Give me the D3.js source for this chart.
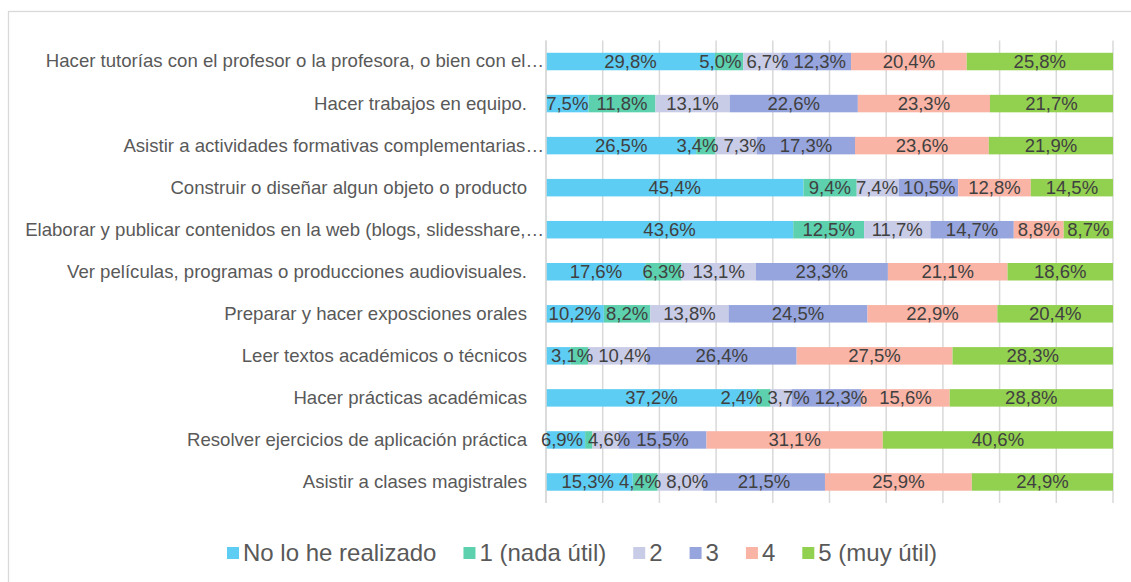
<!DOCTYPE html>
<html>
<head>
<meta charset="utf-8">
<script src="https://cdn.jsdelivr.net/npm/d3@7"></script>
<style>
    body { margin: 0; background: #fff; }
    text { font-family: "Liberation Sans", Arial, sans-serif; }
</style>
</head>
<body>
<div id="chart"></div>
<script>
//  Chart size
var chart_width     =   1131;
var chart_height    =   582;

// Data (top to bottom, as in the picture)
var categorias = [
    "Hacer tutorías con el profesor o la profesora, o bien con el…",
    "Hacer trabajos en equipo.",
    "Asistir a actividades formativas complementarias…",
    "Construir o diseñar algun objeto o producto",
    "Elaborar y publicar contenidos en la web (blogs, slidesshare,…",
    "Ver películas, programas o producciones audiovisuales.",
    "Preparar y hacer exposciones orales",
    "Leer textos académicos o técnicos",
    "Hacer prácticas académicas",
    "Resolver ejercicios de aplicación práctica",
    "Asistir a clases magistrales"
];

var series          =   [ "No lo he realizado", "1 (nada útil)", "2", "3", "4", "5 (muy útil)" ];

var noRealizado     =   [ 29.8,  7.5, 26.5, 45.4, 43.6, 17.6, 10.2,  4.3, 37.2,  6.9, 15.3 ];
var nadaUtil        =   [  5.0, 11.8,  3.4,  9.4, 12.5,  6.3,  8.2,  3.1,  2.4,  1.3,  4.4 ];
var valor2          =   [  6.7, 13.1,  7.3,  7.4, 11.7, 13.1, 13.8, 10.4,  3.7,  4.6,  8.0 ];
var valor3          =   [ 12.3, 22.6, 17.3, 10.5, 14.7, 23.3, 24.5, 26.4, 12.3, 15.5, 21.5 ];
var valor4          =   [ 20.4, 23.3, 23.6, 12.8,  8.8, 21.1, 22.9, 27.5, 15.6, 31.1, 25.9 ];
var muyUtil         =   [ 25.8, 21.7, 21.9, 14.5,  8.7, 18.6, 20.4, 28.3, 28.8, 40.6, 24.9 ];

// data labels that are not shown in the picture: "categoria index|serie index"
var sinEtiqueta     =   [ "7|0", "9|1" ];

var colores         =   [ "#5ecdf3", "#5dd0ae", "#c9cce6", "#96a5de", "#f9b4a6", "#92d050" ];
var gridTicks       =   d3.range(0, 101, 10);

// Build rows for the stack
var valores = [ noRealizado, nadaUtil, valor2, valor3, valor4, muyUtil ];
var filas = categorias.map(function(c, i){
    var f = { categoria: c, idx: i };
    series.forEach(function(s, j){ f[s] = valores[j][i]; });
    return f;
});

var stack   =   d3.stack().keys(series);
var capas   =   stack(filas);

var es = d3.formatLocale({ decimal: ",", thousands: ".", grouping: [3], currency: ["", "€"] });
var fmt = es.format(".1f");

// Scales
var x = d3.scaleLinear().domain([0, 100]).range([546, 1113]);
var y = d3.scaleBand().domain(categorias).range([40.5, 503]).paddingInner(0.584).paddingOuter(0.292);

// SVG
var svg = d3.select("#chart")
    .append("svg")
    .attr("width", chart_width)
    .attr("height", chart_height);

// chart border (cut by the picture on the right and bottom)
svg.append("rect")
    .attr("x", 8.5).attr("y", 11.5)
    .attr("width", 1200).attr("height", 700)
    .attr("fill", "#fff")
    .attr("stroke", "#d9d9d9")
    .attr("stroke-width", 1.3);

// Gridlines
svg.append("g")
    .selectAll("line")
    .data(gridTicks)
    .enter().append("line")
    .attr("x1", d => x(d)).attr("x2", d => x(d))
    .attr("y1", y.range()[0]).attr("y2", y.range()[1])
    .attr("stroke", "#d9d9d9")
    .attr("stroke-width", 1.5);

// Bars
var capasG = svg.append("g")
    .selectAll("g")
    .data(capas)
    .enter().append("g")
    .attr("fill", (d, i) => colores[i]);

capasG.selectAll("rect")
    .data(d => d)
    .enter().append("rect")
    .attr("x", d => x(d[0]))
    .attr("y", d => y(d.data.categoria))
    .attr("width", d => x(d[1]) - x(d[0]))
    .attr("height", y.bandwidth());

// Category axis
var yAxis = svg.append("g")
    .attr("transform", "translate(" + x(0) + ",0)")
    .call(d3.axisLeft(y).tickSize(0).tickPadding(0));
yAxis.select(".domain").attr("stroke", "#d9d9d9").attr("stroke-width", 1.5)
    .attr("d", "M0," + y.range()[0] + "V" + y.range()[1]);
yAxis.selectAll("text")
    .attr("fill", "#595959")
    .attr("font-size", "18.6px")
    .attr("x", d => d.slice(-1) === "…" ? -2 : -19);

// Data labels, with a small push so neighbours do not overlap
var etiquetas = [];
capas.forEach(function(capa, j){
    capa.forEach(function(d, i){
        if( sinEtiqueta.indexOf(i + "|" + j) >= 0 ){
            return null;
        }
        etiquetas.push({
            fila: i,
            serie: j,
            texto: fmt(d[1] - d[0]) + "%",
            cx: (x(d[0]) + x(d[1])) / 2,
            cy: y(d.data.categoria) + y.bandwidth() / 2
        });
    });
});

var labelG = svg.append("g");
var labelSel = labelG.selectAll("text")
    .data(etiquetas)
    .enter().append("text")
    .attr("fill", "#404040")
    .attr("font-size", "18.5px")
    .attr("text-anchor", "middle")
    .attr("dy", "0.35em")
    .attr("y", d => d.cy)
    .text(d => d.texto);

labelSel.each(function(d){ d.w = this.getComputedTextLength(); d.x = d.cx; });

var hueco = 5;
var bordeIzq = x(0) - 6;
d3.range(categorias.length).forEach(function(i){
    var fila = etiquetas.filter(e => e.fila === i).sort((a, b) => a.cx - b.cx);
    for( var it = 0; it < 60; it++ ){
        for( var k = 0; k < fila.length - 1; k++ ){
            var a = fila[k], b = fila[k + 1];
            var solape = (a.x + a.w / 2 + hueco) - (b.x - b.w / 2);
            if( solape > 0 ){
                a.x -= solape / 2;
                b.x += solape / 2;
            }
        }
        if( fila.length && fila[0].x - fila[0].w / 2 < bordeIzq ){
            fila[0].x = bordeIzq + fila[0].w / 2;
        }
    }
});
labelSel.attr("x", d => d.x);

// Legend
var legend = svg.append("g").attr("class", "legend");
var items = legend.selectAll("g")
    .data(series)
    .enter().append("g");
items.append("rect")
    .attr("width", 12).attr("height", 12)
    .attr("y", -6)
    .attr("fill", (d, i) => colores[i]);
items.append("text")
    .attr("x", 16)
    .attr("dy", "0.35em")
    .attr("fill", "#595959")
    .attr("font-size", "24px")
    .text(d => d);

var pos = 0;
items.each(function(){
    d3.select(this).attr("transform", "translate(" + pos + ",0)");
    pos += 16 + d3.select(this).select("text").node().getComputedTextLength() + 27;
});
var total = pos - 27;
legend.attr("transform", "translate(" + (582 - total / 2) + ",553)");
</script>
</body>
</html>
